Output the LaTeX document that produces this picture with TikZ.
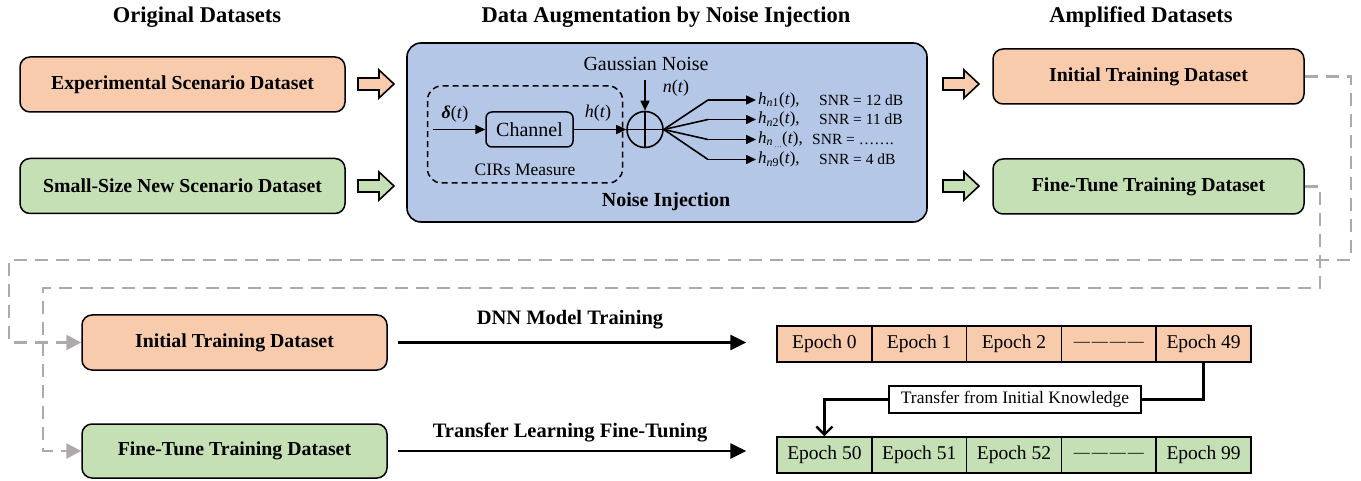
\documentclass[tikz,border=0pt]{standalone}
\usepackage{fontspec}
\setmainfont{Liberation Serif}
\usetikzlibrary{arrows.meta,calc}

\definecolor{orangefill}{HTML}{F8CBAD}
\definecolor{greenfill}{HTML}{C5E0B4}
\definecolor{bluefill}{HTML}{B4C7E7}
\definecolor{linkgrey}{HTML}{AEAAAA}

\tikzset{
  title/.style={font=\bfseries\fontsize{22.5}{26}\selectfont},
  databox/.style={draw, line width=1.5pt, rounded corners=10pt, inner sep=0pt,
    minimum height=55pt, font=\bfseries\fontsize{19.8}{23}\selectfont},
  augbox/.style={draw, line width=1.6pt, rounded corners=14pt, fill=bluefill,
    minimum width=520pt, minimum height=179pt},
  cirbox/.style={draw, line width=1.5pt, dash pattern=on 6pt off 4pt,
    rounded corners=14pt, minimum width=195pt, minimum height=97pt},
  chanbox/.style={draw, line width=1.5pt, rounded corners=6pt,
    minimum width=87pt, minimum height=35pt, font=\fontsize{20}{24}\selectfont},
  plain/.style={font=\fontsize{#1}{#1}\selectfont, inner sep=0pt},
  boldtext/.style={font=\bfseries\fontsize{#1}{#1}\selectfont, inner sep=0pt},
  sig/.style={line width=1.6pt, -{Triangle[length=10pt,width=9pt]}},
  bigarrow/.style={line width=2.6pt, -{Triangle[length=16pt,width=15pt]}},
  link/.style={draw=linkgrey, line width=2.6pt, dash pattern=on 13pt off 8pt,
    -{Triangle[length=15pt,width=15pt,fill=linkgrey]}},
  epoch/.style={draw, line width=1.5pt, minimum width=94.8pt, minimum height=36pt,
    inner sep=0pt, font=\fontsize{19.5}{22}\selectfont},
  labelbox/.style={draw, line width=1.5pt, fill=white, minimum width=252pt,
    minimum height=27pt, inner sep=0pt, font=\fontsize{17.5}{20}\selectfont},
  pics/blockarrow/.style={code={
    \filldraw[line width=1.6pt, fill=#1] (0,-6) -- (21,-6) -- (21,-14) -- (36,0)
      -- (21,14) -- (21,6) -- (0,6) -- cycle;}},
}

% italic signal names set as text so they follow the surrounding size
\newcommand{\sigit}[1]{\textit{#1}}
\newcommand{\dashrun}{{\fontsize{16}{18}\selectfont
  \textemdash\hspace{2pt}\textemdash\hspace{2pt}\textemdash\hspace{2pt}\textemdash}}

\begin{document}
\begin{tikzpicture}[x=1pt,y=-1pt]
\useasboundingbox (0,0) rectangle (1361,481);

% column headings
\node[title] (h1) at (197,17) {Original Datasets};
\node[title] (h2) at (666,17) {Data Augmentation by Noise Injection};
\node[title] (h3) at (1141,17) {Amplified Datasets};

% original datasets
\node[databox, fill=orangefill, minimum width=325pt] (exp) at (182.5,84.5) {Experimental Scenario Dataset};
\node[databox, fill=greenfill, minimum width=325pt] (small) at (182.5,186) {Small-Size New Scenario Dataset};

% hollow arrows into and out of the augmentation block
\pic at (358,84) {blockarrow=orangefill};
\pic at (358,186) {blockarrow=greenfill};
\pic at (943,84) {blockarrow=orangefill};
\pic at (943,186) {blockarrow=greenfill};

% augmentation block
\node[augbox] (aug) at (667,132.5) {};
\node[cirbox] (cirs) at (525,134.5) {};
\node[plain=17.5] (cirslbl) at (525,170) {CIRs Measure};
\node[chanbox] (chan) at (529.5,129.5) {Channel};
\coordinate (din) at (433,129.5);
\node[plain=18] (dlbl) at (455,114) {\textbf{\textit{δ}}(\sigit{t})};
\draw[sig] (din) -- (chan.west);
\node[circle, draw, line width=1.6pt, minimum size=36pt, inner sep=0pt] (sum) at (645,129.5) {};
\draw[line width=1.6pt] (sum.north) -- (sum.south) (sum.west) -- (sum.east);
\draw[sig] (chan.east) -- (sum.west);
\node[plain=18] (hlbl) at (598,113) {\sigit{h}(\sigit{t})};
\node[plain=20] (gauss) at (646,64) {Gaussian Noise};
\coordinate (nin) at (645,80);
\draw[sig] (nin) -- (sum.north);
\node[plain=18] (nlbl) at (676,88) {\sigit{n}(\sigit{t})};

% noisy copies
\foreach \i/\y in {1/100,2/119.5,3/139.5,4/159.5}{
  \coordinate (k\i) at (708,\y);
  \coordinate (o\i) at (756,\y);
  \draw[line width=1.6pt] (sum.east) -- (k\i);
  \draw[sig] (k\i) -- (o\i);
}
\node[plain=17, anchor=west] (s1) at (758,100) {\sigit{h}\textsubscript{\sigit{n}1}(\sigit{t}),};
\node[plain=15.5, anchor=west] (r1) at (819,100) {SNR = 12 dB};
\node[plain=17, anchor=west] (s2) at (758,119.5) {\sigit{h}\textsubscript{\sigit{n}2}(\sigit{t}),};
\node[plain=15.5, anchor=west] (r2) at (819,119.5) {SNR = 11 dB};
\node[plain=17, anchor=west] (s3) at (758,139.5) {\sigit{h}\textsubscript{\sigit{n}\,\raisebox{-2pt}{\fontsize{7}{7}\selectfont…}}(\sigit{t}),};
\node[plain=15.5, anchor=west] (r3) at (812,139.5) {SNR = …….};
\node[plain=17, anchor=west] (s4) at (758,159.5) {\sigit{h}\textsubscript{\sigit{n}9}(\sigit{t}),};
\node[plain=15.5, anchor=west] (r4) at (819,159.5) {SNR = 4 dB};
\node[boldtext=20] (nilbl) at (666,202) {Noise Injection};

% amplified datasets
\node[databox, fill=orangefill, minimum width=311pt] (init) at (1148.5,76.5) {Initial Training Dataset};
\node[databox, fill=greenfill, minimum width=311pt] (fine) at (1148.5,186.5) {Fine-Tune Training Dataset};

% training stage datasets
\node[databox, fill=orangefill, minimum width=305pt] (initL) at (234.5,342.5) {Initial Training Dataset};
\node[databox, fill=greenfill, minimum width=305pt, minimum height=54pt] (fineL) at (234.5,451) {Fine-Tune Training Dataset};

% dashed links from the amplified datasets
\draw[link] (init.east) -| (1351,260) -- (9,260) |- (initL.west);
\draw[link] (fine.east) -| (1320,288) -- (43,288) |- (fineL.west);

% epoch rows
\foreach \n/\t [count=\c from 0] in {e0/Epoch 0,e1/Epoch 1,e2/Epoch 2,e3/\dashrun,e49/Epoch 49}{
  \node[epoch, fill=orangefill] (\n) at ({824.4+94.8*\c},344) {\t};
}
\foreach \n/\t [count=\c from 0] in {e50/Epoch 50,e51/Epoch 51,e52/Epoch 52,e53/\dashrun,e99/Epoch 99}{
  \node[epoch, fill=greenfill] (\n) at ({824.4+94.8*\c},455) {\t};
}

% training arrows
\draw[bigarrow, shorten <=10pt, shorten >=30pt] (initL.east) -- (initL.east -| e0.west);
\draw[bigarrow, shorten <=10pt, shorten >=30pt] (fineL.east) -- (fineL.east -| e50.west);
\node[boldtext=20.5] (dnn) at (570,320) {DNN Model Training};
\node[boldtext=20.5] (tlf) at (570,433) {Transfer Learning Fine-Tuning};

% knowledge transfer
\node[labelbox] (tr) at (1015,399.5) {Transfer from Initial Knowledge};
\draw[line width=2.4pt] (e49.south) |- (tr.east);
\draw[line width=2.4pt, -{Straight Barb[length=8pt,width=16pt]}] (tr.west) -| (e50.north);
\end{tikzpicture}
\end{document}
